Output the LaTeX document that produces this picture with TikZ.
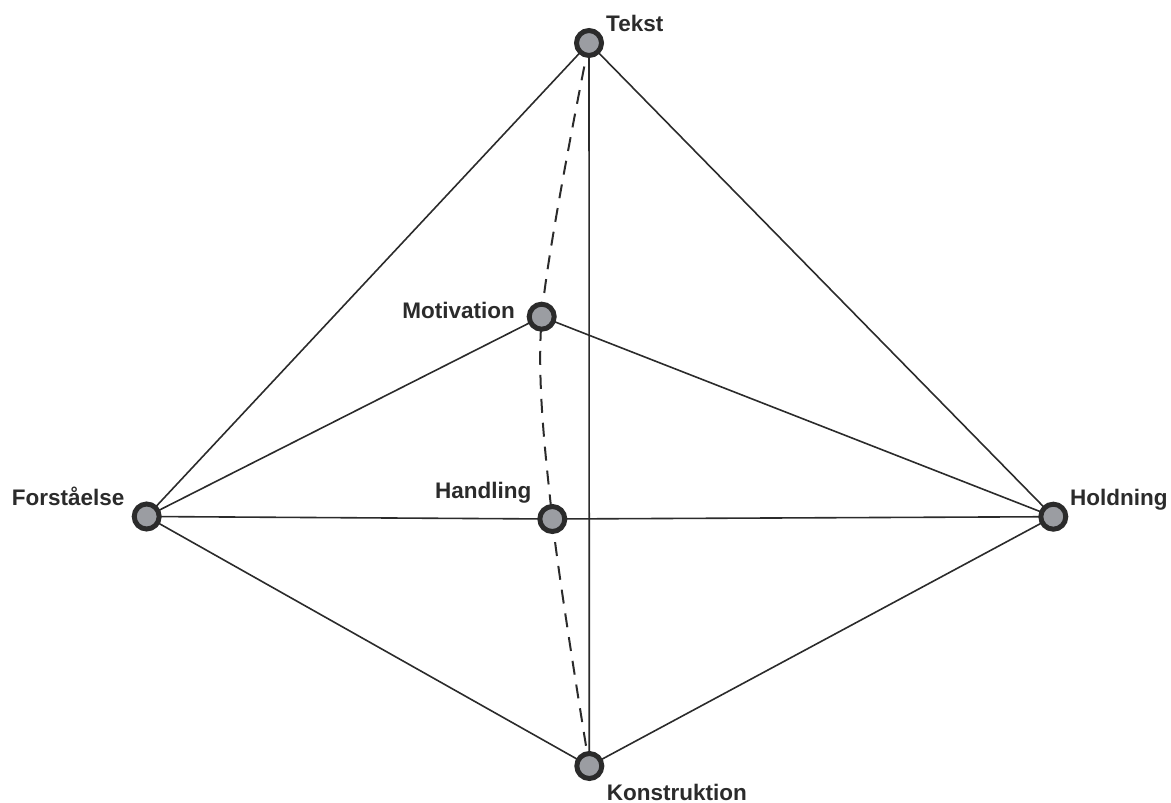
\documentclass[tikz,border=0pt]{standalone}
\usepackage{fontspec}
\setmainfont{Liberation Sans}
\usetikzlibrary{backgrounds}
\definecolor{ln}{HTML}{2B2B2B}
\definecolor{fillg}{HTML}{9B9DA2}
\begin{document}
\begin{tikzpicture}[x=1pt,y=-1pt,
  vertex/.style={circle, draw=ln, line width=5pt, fill=fillg, minimum size=25pt, inner sep=0pt},
  edge/.style={draw=ln, line width=1.6pt},
  dashedge/.style={draw=ln, line width=2pt, dash pattern=on 14pt off 10pt},
  lbl/.style={font=\bfseries\fontsize{22.5}{27}\selectfont, text=ln, inner sep=0pt}]
\useasboundingbox (0,0) rectangle (1171,803);
% vertices
\node[vertex] (T) at (589,43) {};
\node[vertex] (M) at (541.7,316.7) {};
\node[vertex] (F) at (146.7,516.5) {};
\node[vertex] (H) at (552.3,519) {};
\node[vertex] (D) at (1053.3,516.7) {};
\node[vertex] (K) at (589.3,766) {};
% labels
\node[lbl, anchor=base west] (lT) at (606,31.7) {Tekst};
\node[lbl, anchor=base east] (lM) at (515,318.3) {Motivation};
\node[lbl, anchor=base west] (lF) at (11.7,505) {Forståelse};
\node[lbl, anchor=base west] (lH) at (435,498.3) {Handling};
\node[lbl, anchor=base west] (lD) at (1070,505) {Holdning};
\node[lbl, anchor=base west] (lK) at (606.7,800.5) {Konstruktion};
% connectors
\begin{scope}[on background layer]
\draw[edge] (T.center) -- (F.center);
\draw[edge] (T.center) -- (D.center);
\draw[edge] (T.center) -- (K.center);
\draw[edge] (M.center) -- (F.center);
\draw[edge] (M.center) -- (D.center);
\draw[edge] (F.center) -- (H.center) -- (D.center);
\draw[edge] (F.center) -- (K.center);
\draw[edge] (D.center) -- (K.center);
\draw[dashedge] plot[smooth] coordinates {(T.center) (M.center) (H.center) (K.center)};
\end{scope}
\end{tikzpicture}
\end{document}
